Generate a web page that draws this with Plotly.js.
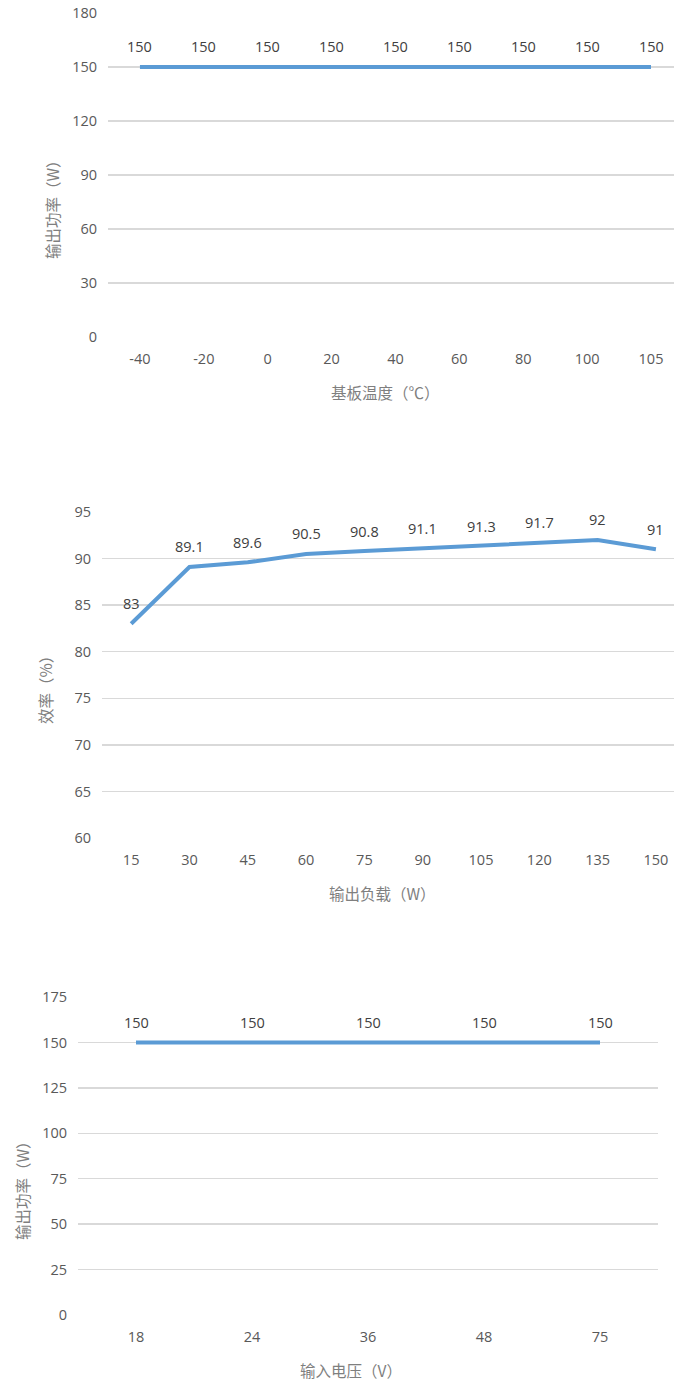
<!DOCTYPE html>
<html>
<head>
<meta charset="utf-8">
<script src="https://cdn.plot.ly/plotly-3.0.1.min.js"></script>
<style>html,body{margin:0;padding:0;background:#fff;}#chart{width:674px;height:1383px;}</style>
</head>
<body>
<div id="chart"></div>
<script>
// Chart 1: output power vs substrate temperature
const tempCategories = ['-40', '-20', '0', '20', '40', '60', '80', '100', '105'];
const tempPower = [150, 150, 150, 150, 150, 150, 150, 150, 150];
const tempYTicks = [0, 30, 60, 90, 120, 150, 180];

// Chart 2: efficiency vs output load
const loadCategories = ['15', '30', '45', '60', '75', '90', '105', '120', '135', '150'];
const loadEfficiency = [83, 89.1, 89.6, 90.5, 90.8, 91.1, 91.3, 91.7, 92, 91];
const effYTicks = [60, 65, 70, 75, 80, 85, 90, 95];

// Chart 3: output power vs input voltage
const voltCategories = ['18', '24', '36', '48', '75'];
const voltPower = [150, 150, 150, 150, 150];
const voltYTicks = [0, 25, 50, 75, 100, 125, 150, 175];

const W = 674, H = 1383;
const px = v => v / W;
const py = v => 1 - v / H;

const lineColor = '#5B9BD5';
const gridColor = '#D9D9D9';
const tickFont = {family: 'Open Sans, Noto Sans CJK SC, sans-serif', size: 14.5, color: '#595959'};
const labelFont = {family: 'Open Sans, Noto Sans CJK SC, sans-serif', size: 14.5, color: '#404040'};
const titleFont = {family: 'Noto Sans CJK SC, sans-serif', size: 15.5, color: '#7F7F7F'};

function trace(x, y, xa, ya) {
  return {
    type: 'scatter', mode: 'lines', x: x, y: y,
    line: {color: lineColor, width: 4},
    xaxis: xa, yaxis: ya, hoverinfo: 'none', cliponaxis: false,
    showlegend: false
  };
}

// Category axes: annotation x is the category index on the axis
function dataLabels(x, y, xa, ya) {
  return x.map((c, i) => ({
    text: String(y[i]), x: i, y: y[i], xref: xa, yref: ya,
    showarrow: false, yshift: 20, font: labelFont,
    xanchor: 'center', yanchor: 'middle'
  }));
}

const data = [
  trace(tempCategories, tempPower, 'x', 'y'),
  trace(loadCategories, loadEfficiency, 'x2', 'y2'),
  trace(voltCategories, voltPower, 'x3', 'y3')
];

function xaxis(domain, range, anchor) {
  return {
    domain: domain, range: range, type: 'category', anchor: anchor,
    showgrid: false, zeroline: false, showline: false, ticks: '',
    tickfont: tickFont, ticklabelstandoff: 11, fixedrange: true
  };
}
function yaxis(domain, range, ticks, anchor) {
  return {
    domain: domain, range: range, anchor: anchor,
    tickvals: ticks, ticktext: ticks.map(String),
    showgrid: true, gridcolor: gridColor, gridwidth: 1.3,
    zeroline: false, showline: false, ticks: '',
    tickfont: tickFont, ticklabelstandoff: 10, fixedrange: true
  };
}

const titleAnnotations = [
  {text: '基板温度（℃）', x: px(385), y: py(392), xref: 'paper', yref: 'paper', showarrow: false, font: titleFont, xanchor: 'center', yanchor: 'middle'},
  {text: '输出功率（W）', x: px(52), y: py(206), xref: 'paper', yref: 'paper', showarrow: false, font: titleFont, textangle: -90, xanchor: 'center', yanchor: 'middle'},
  {text: '输出负载（W）', x: px(382), y: py(893), xref: 'paper', yref: 'paper', showarrow: false, font: titleFont, xanchor: 'center', yanchor: 'middle'},
  {text: '效率（%）', x: px(45), y: py(686), xref: 'paper', yref: 'paper', showarrow: false, font: titleFont, textangle: -90, xanchor: 'center', yanchor: 'middle'},
  {text: '输入电压（V）', x: px(351), y: py(1370), xref: 'paper', yref: 'paper', showarrow: false, font: titleFont, xanchor: 'center', yanchor: 'middle'},
  {text: '输出功率（W）', x: px(22), y: py(1187), xref: 'paper', yref: 'paper', showarrow: false, font: titleFont, textangle: -90, xanchor: 'center', yanchor: 'middle'}
];

const layout = {
  width: W, height: H,
  margin: {l: 0, r: 0, t: 0, b: 0},
  paper_bgcolor: '#ffffff', plot_bgcolor: '#ffffff',
  xaxis: xaxis([px(108), 1], [-0.5, 8.36], 'y'),
  yaxis: yaxis([py(337), py(13)], [0, 180], tempYTicks, 'x'),
  xaxis2: xaxis([px(102), 1], [-0.5, 9.31], 'y2'),
  yaxis2: yaxis([py(838), py(512)], [60, 95], effYTicks, 'x2'),
  xaxis3: xaxis([px(78), px(658)], [-0.5, 4.5], 'y3'),
  yaxis3: yaxis([py(1315), py(997)], [0, 175], voltYTicks, 'x3'),
  annotations: titleAnnotations
    .concat(dataLabels(tempCategories, tempPower, 'x', 'y'))
    .concat(dataLabels(loadCategories, loadEfficiency, 'x2', 'y2'))
    .concat(dataLabels(voltCategories, voltPower, 'x3', 'y3'))
};

Plotly.newPlot('chart', data, layout, {staticPlot: true, displayModeBar: false});
</script>
</body>
</html>
